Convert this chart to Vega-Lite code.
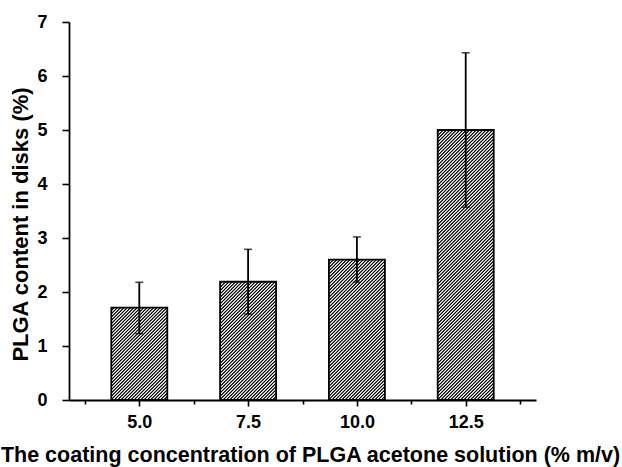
{
  "$schema": "https://vega.github.io/schema/vega-lite/v6.json",
  "autosize": {"type": "none"},
  "padding": {"left": 69, "top": 22, "right": 86, "bottom": 67},
  "width": 467,
  "height": 378,
  "background": "white",
  "config": {
    "view": {"stroke": null},
    "font": "Liberation Sans",
    "axis": {
      "domainColor": "black",
      "domainWidth": 1.8,
      "tickColor": "black",
      "tickWidth": 1.6,
      "grid": false,
      "labelFont": "Liberation Sans",
      "labelFontWeight": "bold",
      "labelFontSize": 18,
      "labelColor": "black",
      "titleFont": "Liberation Sans",
      "titleFontWeight": "bold",
      "titleFontSize": 22,
      "titleColor": "black"
    }
  },
  "data": {
    "values": [
      {"conc": 5.0, "content": 1.71, "lower": 1.23, "upper": 2.18},
      {"conc": 7.5, "content": 2.19, "lower": 1.59, "upper": 2.79},
      {"conc": 10.0, "content": 2.6, "lower": 2.18, "upper": 3.02},
      {"conc": 12.5, "content": 5.0, "lower": 3.57, "upper": 6.43}
    ]
  },
  "layer": [
    {
      "mark": {
        "type": "bar",
        "size": 56,
        "strokeWidth": 0,
        "fill": {
          "gradient": "linear",
          "x1": 1, "y1": 1, "x2": 0.87344, "y2": 0.14572,
          "stops": [
{"offset":0,"color":"#000"},{"offset":0.002,"color":"#000"},{"offset":0.005,"color":"#fff"},{"offset":0.007,"color":"#fff"},
{"offset":0.01,"color":"#000"},{"offset":0.012,"color":"#000"},{"offset":0.015,"color":"#fff"},{"offset":0.017,"color":"#fff"},
{"offset":0.02,"color":"#000"},{"offset":0.022,"color":"#000"},{"offset":0.025,"color":"#fff"},{"offset":0.027,"color":"#fff"},
{"offset":0.03,"color":"#000"},{"offset":0.032,"color":"#000"},{"offset":0.035,"color":"#fff"},{"offset":0.037,"color":"#fff"},
{"offset":0.04,"color":"#000"},{"offset":0.042,"color":"#000"},{"offset":0.045,"color":"#fff"},{"offset":0.047,"color":"#fff"},
{"offset":0.05,"color":"#000"},{"offset":0.052,"color":"#000"},{"offset":0.055,"color":"#fff"},{"offset":0.057,"color":"#fff"},
{"offset":0.06,"color":"#000"},{"offset":0.062,"color":"#000"},{"offset":0.065,"color":"#fff"},{"offset":0.067,"color":"#fff"},
{"offset":0.07,"color":"#000"},{"offset":0.072,"color":"#000"},{"offset":0.075,"color":"#fff"},{"offset":0.077,"color":"#fff"},
{"offset":0.08,"color":"#000"},{"offset":0.082,"color":"#000"},{"offset":0.085,"color":"#fff"},{"offset":0.087,"color":"#fff"},
{"offset":0.09,"color":"#000"},{"offset":0.092,"color":"#000"},{"offset":0.095,"color":"#fff"},{"offset":0.097,"color":"#fff"},
{"offset":0.1,"color":"#000"},{"offset":0.102,"color":"#000"},{"offset":0.105,"color":"#fff"},{"offset":0.107,"color":"#fff"},
{"offset":0.11,"color":"#000"},{"offset":0.112,"color":"#000"},{"offset":0.115,"color":"#fff"},{"offset":0.117,"color":"#fff"},
{"offset":0.12,"color":"#000"},{"offset":0.122,"color":"#000"},{"offset":0.125,"color":"#fff"},{"offset":0.127,"color":"#fff"},
{"offset":0.13,"color":"#000"},{"offset":0.132,"color":"#000"},{"offset":0.135,"color":"#fff"},{"offset":0.137,"color":"#fff"},
{"offset":0.14,"color":"#000"},{"offset":0.142,"color":"#000"},{"offset":0.145,"color":"#fff"},{"offset":0.147,"color":"#fff"},
{"offset":0.15,"color":"#000"},{"offset":0.152,"color":"#000"},{"offset":0.155,"color":"#fff"},{"offset":0.157,"color":"#fff"},
{"offset":0.16,"color":"#000"},{"offset":0.162,"color":"#000"},{"offset":0.165,"color":"#fff"},{"offset":0.167,"color":"#fff"},
{"offset":0.17,"color":"#000"},{"offset":0.172,"color":"#000"},{"offset":0.175,"color":"#fff"},{"offset":0.177,"color":"#fff"},
{"offset":0.18,"color":"#000"},{"offset":0.182,"color":"#000"},{"offset":0.185,"color":"#fff"},{"offset":0.187,"color":"#fff"},
{"offset":0.19,"color":"#000"},{"offset":0.192,"color":"#000"},{"offset":0.195,"color":"#fff"},{"offset":0.197,"color":"#fff"},
{"offset":0.2,"color":"#000"},{"offset":0.202,"color":"#000"},{"offset":0.205,"color":"#fff"},{"offset":0.207,"color":"#fff"},
{"offset":0.21,"color":"#000"},{"offset":0.212,"color":"#000"},{"offset":0.215,"color":"#fff"},{"offset":0.217,"color":"#fff"},
{"offset":0.22,"color":"#000"},{"offset":0.222,"color":"#000"},{"offset":0.225,"color":"#fff"},{"offset":0.227,"color":"#fff"},
{"offset":0.23,"color":"#000"},{"offset":0.232,"color":"#000"},{"offset":0.235,"color":"#fff"},{"offset":0.237,"color":"#fff"},
{"offset":0.24,"color":"#000"},{"offset":0.242,"color":"#000"},{"offset":0.245,"color":"#fff"},{"offset":0.247,"color":"#fff"},
{"offset":0.25,"color":"#000"},{"offset":0.252,"color":"#000"},{"offset":0.255,"color":"#fff"},{"offset":0.257,"color":"#fff"},
{"offset":0.26,"color":"#000"},{"offset":0.262,"color":"#000"},{"offset":0.265,"color":"#fff"},{"offset":0.267,"color":"#fff"},
{"offset":0.27,"color":"#000"},{"offset":0.272,"color":"#000"},{"offset":0.275,"color":"#fff"},{"offset":0.277,"color":"#fff"},
{"offset":0.28,"color":"#000"},{"offset":0.282,"color":"#000"},{"offset":0.285,"color":"#fff"},{"offset":0.287,"color":"#fff"},
{"offset":0.29,"color":"#000"},{"offset":0.292,"color":"#000"},{"offset":0.295,"color":"#fff"},{"offset":0.297,"color":"#fff"},
{"offset":0.3,"color":"#000"},{"offset":0.302,"color":"#000"},{"offset":0.305,"color":"#fff"},{"offset":0.307,"color":"#fff"},
{"offset":0.31,"color":"#000"},{"offset":0.312,"color":"#000"},{"offset":0.315,"color":"#fff"},{"offset":0.317,"color":"#fff"},
{"offset":0.32,"color":"#000"},{"offset":0.322,"color":"#000"},{"offset":0.325,"color":"#fff"},{"offset":0.327,"color":"#fff"},
{"offset":0.33,"color":"#000"},{"offset":0.332,"color":"#000"},{"offset":0.335,"color":"#fff"},{"offset":0.337,"color":"#fff"},
{"offset":0.34,"color":"#000"},{"offset":0.342,"color":"#000"},{"offset":0.345,"color":"#fff"},{"offset":0.347,"color":"#fff"},
{"offset":0.35,"color":"#000"},{"offset":0.352,"color":"#000"},{"offset":0.355,"color":"#fff"},{"offset":0.357,"color":"#fff"},
{"offset":0.36,"color":"#000"},{"offset":0.362,"color":"#000"},{"offset":0.365,"color":"#fff"},{"offset":0.367,"color":"#fff"},
{"offset":0.37,"color":"#000"},{"offset":0.372,"color":"#000"},{"offset":0.375,"color":"#fff"},{"offset":0.377,"color":"#fff"},
{"offset":0.38,"color":"#000"},{"offset":0.382,"color":"#000"},{"offset":0.385,"color":"#fff"},{"offset":0.387,"color":"#fff"},
{"offset":0.39,"color":"#000"},{"offset":0.392,"color":"#000"},{"offset":0.395,"color":"#fff"},{"offset":0.397,"color":"#fff"},
{"offset":0.4,"color":"#000"},{"offset":0.402,"color":"#000"},{"offset":0.405,"color":"#fff"},{"offset":0.407,"color":"#fff"},
{"offset":0.41,"color":"#000"},{"offset":0.412,"color":"#000"},{"offset":0.415,"color":"#fff"},{"offset":0.417,"color":"#fff"},
{"offset":0.42,"color":"#000"},{"offset":0.422,"color":"#000"},{"offset":0.425,"color":"#fff"},{"offset":0.427,"color":"#fff"},
{"offset":0.43,"color":"#000"},{"offset":0.432,"color":"#000"},{"offset":0.435,"color":"#fff"},{"offset":0.437,"color":"#fff"},
{"offset":0.44,"color":"#000"},{"offset":0.442,"color":"#000"},{"offset":0.445,"color":"#fff"},{"offset":0.447,"color":"#fff"},
{"offset":0.45,"color":"#000"},{"offset":0.452,"color":"#000"},{"offset":0.455,"color":"#fff"},{"offset":0.457,"color":"#fff"},
{"offset":0.46,"color":"#000"},{"offset":0.462,"color":"#000"},{"offset":0.465,"color":"#fff"},{"offset":0.467,"color":"#fff"},
{"offset":0.47,"color":"#000"},{"offset":0.472,"color":"#000"},{"offset":0.475,"color":"#fff"},{"offset":0.477,"color":"#fff"},
{"offset":0.48,"color":"#000"},{"offset":0.482,"color":"#000"},{"offset":0.485,"color":"#fff"},{"offset":0.487,"color":"#fff"},
{"offset":0.49,"color":"#000"},{"offset":0.492,"color":"#000"},{"offset":0.495,"color":"#fff"},{"offset":0.497,"color":"#fff"},
{"offset":0.5,"color":"#000"},{"offset":0.502,"color":"#000"},{"offset":0.505,"color":"#fff"},{"offset":0.507,"color":"#fff"},
{"offset":0.51,"color":"#000"},{"offset":0.512,"color":"#000"},{"offset":0.515,"color":"#fff"},{"offset":0.517,"color":"#fff"},
{"offset":0.52,"color":"#000"},{"offset":0.522,"color":"#000"},{"offset":0.525,"color":"#fff"},{"offset":0.527,"color":"#fff"},
{"offset":0.53,"color":"#000"},{"offset":0.532,"color":"#000"},{"offset":0.535,"color":"#fff"},{"offset":0.537,"color":"#fff"},
{"offset":0.54,"color":"#000"},{"offset":0.542,"color":"#000"},{"offset":0.545,"color":"#fff"},{"offset":0.547,"color":"#fff"},
{"offset":0.55,"color":"#000"},{"offset":0.552,"color":"#000"},{"offset":0.555,"color":"#fff"},{"offset":0.557,"color":"#fff"},
{"offset":0.56,"color":"#000"},{"offset":0.562,"color":"#000"},{"offset":0.565,"color":"#fff"},{"offset":0.567,"color":"#fff"},
{"offset":0.57,"color":"#000"},{"offset":0.572,"color":"#000"},{"offset":0.575,"color":"#fff"},{"offset":0.577,"color":"#fff"},
{"offset":0.58,"color":"#000"},{"offset":0.582,"color":"#000"},{"offset":0.585,"color":"#fff"},{"offset":0.587,"color":"#fff"},
{"offset":0.59,"color":"#000"},{"offset":0.592,"color":"#000"},{"offset":0.595,"color":"#fff"},{"offset":0.597,"color":"#fff"},
{"offset":0.6,"color":"#000"},{"offset":0.602,"color":"#000"},{"offset":0.605,"color":"#fff"},{"offset":0.607,"color":"#fff"},
{"offset":0.61,"color":"#000"},{"offset":0.612,"color":"#000"},{"offset":0.615,"color":"#fff"},{"offset":0.617,"color":"#fff"},
{"offset":0.62,"color":"#000"},{"offset":0.622,"color":"#000"},{"offset":0.625,"color":"#fff"},{"offset":0.627,"color":"#fff"},
{"offset":0.63,"color":"#000"},{"offset":0.632,"color":"#000"},{"offset":0.635,"color":"#fff"},{"offset":0.637,"color":"#fff"},
{"offset":0.64,"color":"#000"},{"offset":0.642,"color":"#000"},{"offset":0.645,"color":"#fff"},{"offset":0.647,"color":"#fff"},
{"offset":0.65,"color":"#000"},{"offset":0.652,"color":"#000"},{"offset":0.655,"color":"#fff"},{"offset":0.657,"color":"#fff"},
{"offset":0.66,"color":"#000"},{"offset":0.662,"color":"#000"},{"offset":0.665,"color":"#fff"},{"offset":0.667,"color":"#fff"},
{"offset":0.67,"color":"#000"},{"offset":0.672,"color":"#000"},{"offset":0.675,"color":"#fff"},{"offset":0.677,"color":"#fff"},
{"offset":0.68,"color":"#000"},{"offset":0.682,"color":"#000"},{"offset":0.685,"color":"#fff"},{"offset":0.687,"color":"#fff"},
{"offset":0.69,"color":"#000"},{"offset":0.692,"color":"#000"},{"offset":0.695,"color":"#fff"},{"offset":0.697,"color":"#fff"},
{"offset":0.7,"color":"#000"},{"offset":0.702,"color":"#000"},{"offset":0.705,"color":"#fff"},{"offset":0.707,"color":"#fff"},
{"offset":0.71,"color":"#000"},{"offset":0.712,"color":"#000"},{"offset":0.715,"color":"#fff"},{"offset":0.717,"color":"#fff"},
{"offset":0.72,"color":"#000"},{"offset":0.722,"color":"#000"},{"offset":0.725,"color":"#fff"},{"offset":0.727,"color":"#fff"},
{"offset":0.73,"color":"#000"},{"offset":0.732,"color":"#000"},{"offset":0.735,"color":"#fff"},{"offset":0.737,"color":"#fff"},
{"offset":0.74,"color":"#000"},{"offset":0.742,"color":"#000"},{"offset":0.745,"color":"#fff"},{"offset":0.747,"color":"#fff"},
{"offset":0.75,"color":"#000"},{"offset":0.752,"color":"#000"},{"offset":0.755,"color":"#fff"},{"offset":0.757,"color":"#fff"},
{"offset":0.76,"color":"#000"},{"offset":0.762,"color":"#000"},{"offset":0.765,"color":"#fff"},{"offset":0.767,"color":"#fff"},
{"offset":0.77,"color":"#000"},{"offset":0.772,"color":"#000"},{"offset":0.775,"color":"#fff"},{"offset":0.777,"color":"#fff"},
{"offset":0.78,"color":"#000"},{"offset":0.782,"color":"#000"},{"offset":0.785,"color":"#fff"},{"offset":0.787,"color":"#fff"},
{"offset":0.79,"color":"#000"},{"offset":0.792,"color":"#000"},{"offset":0.795,"color":"#fff"},{"offset":0.797,"color":"#fff"},
{"offset":0.8,"color":"#000"},{"offset":0.802,"color":"#000"},{"offset":0.805,"color":"#fff"},{"offset":0.807,"color":"#fff"},
{"offset":0.81,"color":"#000"},{"offset":0.812,"color":"#000"},{"offset":0.815,"color":"#fff"},{"offset":0.817,"color":"#fff"},
{"offset":0.82,"color":"#000"},{"offset":0.822,"color":"#000"},{"offset":0.825,"color":"#fff"},{"offset":0.827,"color":"#fff"},
{"offset":0.83,"color":"#000"},{"offset":0.832,"color":"#000"},{"offset":0.835,"color":"#fff"},{"offset":0.837,"color":"#fff"},
{"offset":0.84,"color":"#000"},{"offset":0.842,"color":"#000"},{"offset":0.845,"color":"#fff"},{"offset":0.847,"color":"#fff"},
{"offset":0.85,"color":"#000"},{"offset":0.852,"color":"#000"},{"offset":0.855,"color":"#fff"},{"offset":0.857,"color":"#fff"},
{"offset":0.86,"color":"#000"},{"offset":0.862,"color":"#000"},{"offset":0.865,"color":"#fff"},{"offset":0.867,"color":"#fff"},
{"offset":0.87,"color":"#000"},{"offset":0.872,"color":"#000"},{"offset":0.875,"color":"#fff"},{"offset":0.877,"color":"#fff"},
{"offset":0.88,"color":"#000"},{"offset":0.882,"color":"#000"},{"offset":0.885,"color":"#fff"},{"offset":0.887,"color":"#fff"},
{"offset":0.89,"color":"#000"},{"offset":0.892,"color":"#000"},{"offset":0.895,"color":"#fff"},{"offset":0.897,"color":"#fff"},
{"offset":0.9,"color":"#000"},{"offset":0.902,"color":"#000"},{"offset":0.905,"color":"#fff"},{"offset":0.907,"color":"#fff"},
{"offset":0.91,"color":"#000"},{"offset":0.912,"color":"#000"},{"offset":0.915,"color":"#fff"},{"offset":0.917,"color":"#fff"},
{"offset":0.92,"color":"#000"},{"offset":0.922,"color":"#000"},{"offset":0.925,"color":"#fff"},{"offset":0.927,"color":"#fff"},
{"offset":0.93,"color":"#000"},{"offset":0.932,"color":"#000"},{"offset":0.935,"color":"#fff"},{"offset":0.937,"color":"#fff"},
{"offset":0.94,"color":"#000"},{"offset":0.942,"color":"#000"},{"offset":0.945,"color":"#fff"},{"offset":0.947,"color":"#fff"},
{"offset":0.95,"color":"#000"},{"offset":0.952,"color":"#000"},{"offset":0.955,"color":"#fff"},{"offset":0.957,"color":"#fff"},
{"offset":0.96,"color":"#000"},{"offset":0.962,"color":"#000"},{"offset":0.965,"color":"#fff"},{"offset":0.967,"color":"#fff"},
{"offset":0.97,"color":"#000"},{"offset":0.972,"color":"#000"},{"offset":0.975,"color":"#fff"},{"offset":0.977,"color":"#fff"},
{"offset":0.98,"color":"#000"},{"offset":0.982,"color":"#000"},{"offset":0.985,"color":"#fff"},{"offset":0.987,"color":"#fff"},
{"offset":0.99,"color":"#000"},{"offset":0.992,"color":"#000"},{"offset":0.995,"color":"#fff"},{"offset":0.997,"color":"#fff"},
{"offset":1,"color":"#000"}
          ]
        }
      },
      "encoding": {
        "x": {
          "field": "conc",
          "type": "quantitative",
          "scale": {"domain": [3.5, 14], "nice": false, "zero": false},
          "axis": {
            "title": "The coating concentration of PLGA acetone solution (% m/v)",
            "values": [3.75, 5, 6.25, 7.5, 8.75, 10, 11.25, 12.5, 13.75],
            "labelExpr": "indexof([5, 7.5, 10, 12.5], datum.value) >= 0 ? format(datum.value, '.1f') : ''",
            "tickSize": {"condition": {"test": "indexof([5, 7.5, 10, 12.5], datum.value) >= 0", "value": 6}, "value": 4},
            "labelPadding": 7,
            "labelOverlap": false,
            "labelFlush": false,
            "titleFontSize": 21.5,
            "titleX": 241,
            "titleY": 44
          }
        },
        "y": {
          "datum": 7,
          "type": "quantitative",
          "scale": {"domain": [0, 7], "nice": false},
          "axis": {
            "title": "PLGA content in disks (%)",
            "values": [0, 0.5, 1, 1.5, 2, 2.5, 3, 3.5, 4, 4.5, 5, 5.5, 6, 6.5, 7],
            "labelExpr": "datum.value % 1 == 0 ? format(datum.value, 'd') : ''",
            "tickSize": {"condition": {"test": "datum.value % 1 == 0", "value": 7}, "value": 4},
            "labelPadding": 15,
            "labelOverlap": false,
            "titleX": -37,
            "titleY": 202
          }
        },
        "y2": {"datum": 0}
      }
    },
    {
      "mark": {"type": "bar", "size": 59, "fill": "white", "strokeWidth": 0},
      "encoding": {
        "x": {"field": "conc", "type": "quantitative"},
        "y": {"field": "content", "type": "quantitative"},
        "y2": {"datum": 7}
      }
    },
    {
      "mark": {"type": "bar", "size": 56, "fill": "transparent", "stroke": "black", "strokeWidth": 1.8},
      "encoding": {
        "x": {"field": "conc", "type": "quantitative"},
        "y": {"field": "content", "type": "quantitative"}
      }
    },
    {
      "mark": {"type": "rule", "color": "black", "strokeWidth": 1.8},
      "encoding": {
        "x": {"field": "conc", "type": "quantitative"},
        "y": {"field": "lower", "type": "quantitative"},
        "y2": {"field": "upper"}
      }
    },
    {
      "mark": {"type": "tick", "orient": "horizontal", "color": "black", "size": 8, "thickness": 1.6},
      "encoding": {
        "x": {"field": "conc", "type": "quantitative"},
        "y": {"field": "upper", "type": "quantitative"}
      }
    },
    {
      "mark": {"type": "tick", "orient": "horizontal", "color": "black", "size": 8, "thickness": 1.6},
      "encoding": {
        "x": {"field": "conc", "type": "quantitative"},
        "y": {"field": "lower", "type": "quantitative"}
      }
    }
  ]
}
